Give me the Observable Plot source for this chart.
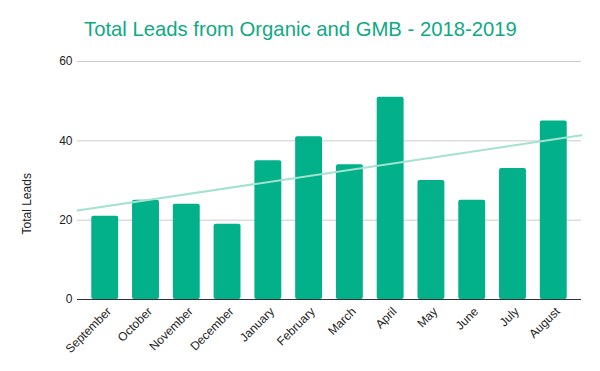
<!DOCTYPE html>
<html>
<head>
<meta charset="utf-8">
<script src="https://cdn.jsdelivr.net/npm/d3@7"></script>
<script src="https://cdn.jsdelivr.net/npm/@observablehq/plot@0.6"></script>
<style>
  html, body { margin: 0; padding: 0; background: #fff; }
  #title { height: 50px; box-sizing: border-box; padding: 19px 0 0 84px; font-family: "Liberation Sans", Arial, sans-serif; font-size: 20.3px; color: #0fa984; line-height: 20px; white-space: nowrap; }
  #chart svg { display: block; }
</style>
</head>
<body>
<div id="title">Total Leads from Organic and GMB - 2018-2019</div>
<div id="chart"></div>
<script>
const months = ["September","October","November","December","January","February","March","April","May","June","July","August"];
const leads = [21, 25, 24, 19, 35, 41, 34, 51, 30, 25, 33, 45];
const yTicks = [0, 20, 40, 60];
const yLabel = "Total Leads";

const data = months.map((m, i) => ({i, month: m, value: leads[i]}));

// least-squares trendline over the month index
const n = leads.length;
const pad = 0.68;
const xm = d3.mean(data, d => d.i), ym = d3.mean(leads);
const slope = d3.sum(data, d => (d.i - xm) * (d.value - ym)) / d3.sum(data, d => (d.i - xm) ** 2);
const icpt = ym - slope * xm;
const trend = [-pad, n - 1 + pad].map(x => ({x, y: icpt + slope * x}));

const half = 0.33;
const chart = Plot.plot({
  width: 600,
  height: 321,
  marginTop: 11,
  marginBottom: 72,
  marginLeft: 77,
  marginRight: 19,
  style: {fontFamily: "'Liberation Sans', Arial, sans-serif", fontSize: "12px", color: "#222", background: "#fff"},
  x: {type: "linear", domain: [-pad, n - 1 + pad]},
  y: {domain: [0, 60]},
  marks: [
    Plot.gridY(yTicks, {stroke: "#cccccc", strokeOpacity: 1}),
    Plot.rectY(data, {x1: d => d.i - half, x2: d => d.i + half, y: "value", fill: "#02b08a", rx: 2}),
    Plot.line(trend, {x: "x", y: "y", stroke: "#a3e2d1", strokeWidth: 2}),
    Plot.ruleY([0], {stroke: "#333", strokeWidth: 1}),
    Plot.axisY({ticks: yTicks, tickSize: 0, tickPadding: 5, label: null, fontSize: 12}),
    Plot.axisX({ticks: d3.range(n), tickFormat: i => months[i], tickSize: 0, tickPadding: 10, tickRotate: -45, label: null, fontSize: 12, dx: 4}),
    Plot.text([yLabel], {frameAnchor: "left", text: d => d, rotate: -90, dx: -50, dy: 54, fontSize: 12, fill: "#222"})
  ]
});
document.getElementById("chart").appendChild(chart);
</script>
</body>
</html>
